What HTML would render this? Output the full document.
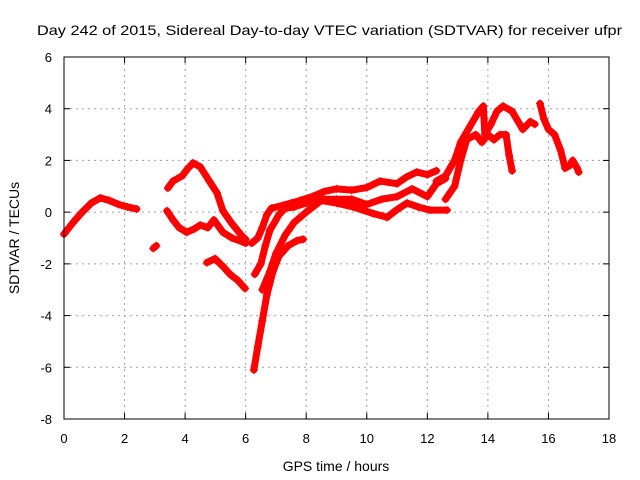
<!DOCTYPE html>
<html><head><meta charset="utf-8"><style>
body{margin:0;background:#fff}
svg{display:block;font-family:"Liberation Sans",sans-serif}
</style></head><body>
<svg id="chart" width="640" height="480" viewBox="0 0 640 480">
<rect width="640" height="480" fill="#fff"/>
<text x="37" y="35" font-size="14" textLength="585" lengthAdjust="spacingAndGlyphs">Day 242 of 2015, Sidereal Day-to-day VTEC variation (SDTVAR) for receiver ufpr</text>
<text transform="translate(19,238) rotate(-90)" text-anchor="middle" font-size="14">SDTVAR / TECUs</text>
<text x="336" y="471" text-anchor="middle" font-size="14">GPS time / hours</text>
<g id="grid"></g><g id="ticks"></g><g id="series"></g>
<rect x="64" y="57" width="545" height="362" fill="none" stroke="#000" stroke-width="1"/>
</svg>
<script>
const xTicks=[0,2,4,6,8,10,12,14,16,18];
const yTicks=[-8,-6,-4,-2,0,2,4,6];
const trackA=[[0,-0.85],[0.3,-0.4],[0.6,0],[0.9,0.35],[1.2,0.55],[1.5,0.45],[1.8,0.3],[2.1,0.2],[2.4,0.12]];
const trackBlob=[[2.95,-1.4],[3.05,-1.3]];
const trackB=[[3.43,0.93],[3.6,1.2],[3.9,1.4],[4.1,1.7],[4.26,1.9],[4.5,1.75],[4.8,1.2],[5.05,0.75],[5.25,0.05],[5.55,-0.45],[5.9,-0.95],[6.0,-1.05]];
const trackC=[[3.4,0.05],[3.6,-0.3],[3.8,-0.6],[4.05,-0.78],[4.3,-0.65],[4.5,-0.5],[4.75,-0.6],[4.95,-0.3],[5.25,-0.78],[5.55,-1.0],[5.9,-1.15],[6.0,-1.2]];
const trackD=[[4.72,-1.95],[4.99,-1.8],[5.25,-2.1],[5.48,-2.4],[5.75,-2.65],[5.98,-2.95]];
const trackE=[[6.27,-6.1],[6.4,-5.2],[6.55,-4.2],[6.7,-3.2],[6.9,-2.3],[7.1,-1.7],[7.4,-1.3],[7.7,-1.1],[7.9,-1.05]];
const trackF=[[6.2,-1.2],[6.4,-1.0],[6.55,-0.6],[6.7,-0.1],[6.85,0.15],[7.2,0.25],[7.5,0.35],[7.8,0.45],[8.2,0.6],[8.6,0.8],[9.0,0.9],[9.5,0.85],[10.0,0.95],[10.44,1.2],[11.0,1.1],[11.3,1.35],[11.65,1.55],[12.0,1.45],[12.3,1.6]];
const trackG=[[6.3,-2.4],[6.5,-2.0],[6.65,-1.3],[6.8,-0.7],[6.95,-0.4],[7.1,-0.1],[7.3,0.15],[7.6,0.2],[8.0,0.35],[8.5,0.5],[9.0,0.5],[9.5,0.5],[10.0,0.3],[10.5,0.5],[11.0,0.6],[11.5,0.9],[12.0,0.6],[12.3,1.1],[12.6,1.3]];
const trackH=[[6.55,-3.0],[6.8,-2.3],[7.0,-1.6],[7.3,-0.9],[7.6,-0.4],[8.0,0.0],[8.5,0.45],[9.0,0.35],[9.55,0.2],[10.2,-0.05],[10.67,-0.2],[11.0,0.1],[11.33,0.35],[11.7,0.2],[12.09,0.08],[12.65,0.08]];
const trackI=[[12.3,1.2],[12.6,1.4],[12.9,2.0],[13.1,2.7],[13.4,3.3],[13.7,3.9],[13.85,4.1],[13.9,3.0],[14.1,3.4],[14.3,3.9],[14.5,4.1],[14.8,3.9],[15.0,3.5],[15.15,3.2],[15.4,3.5],[15.55,3.4]];
const trackJ=[[12.6,0.5],[12.9,1.0],[13.1,2.0],[13.3,2.8],[13.6,3.0],[13.8,2.7],[14.0,3.0],[14.2,2.8],[14.4,3.0],[14.6,3.0],[14.7,2.2],[14.8,1.6]];
const trackK=[[15.72,4.2],[15.85,3.6],[16.0,3.2],[16.2,3.0],[16.4,2.4],[16.55,1.7],[16.7,1.8],[16.8,2.0],[16.95,1.7],[17.0,1.55]];
const tracks=[trackA,trackBlob,trackB,trackC,trackD,trackE,trackF,trackG,trackH,trackI,trackJ,trackK];
const X0=64,X1=609,Y0=419,Y1=57;
function xs(t){return X0+(t-0)/(18-0)*(X1-X0);}
function ys(v){return Y0-(v-(-8))/(6-(-8))*(Y0-Y1);}
const NS="http://www.w3.org/2000/svg";
function mk(tag,attrs,parent){const e=document.createElementNS(NS,tag);for(const k in attrs)e.setAttribute(k,attrs[k]);parent.appendChild(e);return e;}
const grid=document.getElementById('grid'),ticks=document.getElementById('ticks'),series=document.getElementById('series');
xTicks.forEach(t=>{const x=xs(t);
 if(t>0&&t<18){const g=mk('line',{x1:x,x2:x,y1:Y1,y2:Y0,stroke:'#a0a0a0','stroke-dasharray':'2,4'},grid);
 
 }
 mk('line',{x1:x,x2:x,y1:Y0,y2:Y0-6,stroke:'#000'},ticks);
 mk('line',{x1:x,x2:x,y1:Y1,y2:Y1+6,stroke:'#000'},ticks);
 const l=mk('text',{x:x,y:443,'text-anchor':'middle','font-size':'13'},ticks);l.textContent=t;
 
 
});
yTicks.forEach(v=>{const y=ys(v);
 if(v>-8&&v<6){const g=mk('line',{x1:X0,x2:X1,y1:y,y2:y,stroke:'#a0a0a0','stroke-dasharray':'2,4'},grid);
 
 }
 mk('line',{x1:X0,x2:X0+6,y1:y,y2:y,stroke:'#000'},ticks);
 mk('line',{x1:X1,x2:X1-6,y1:y,y2:y,stroke:'#000'},ticks);
 const l=mk('text',{x:52,y:y+5,'text-anchor':'end','font-size':'13'},ticks);l.textContent=v;
 
 
});
tracks.forEach(tr=>{
 const g=mk('g',{},series);
 
 
 mk('polyline',{points:tr.map(p=>xs(p[0])+','+ys(p[1])).join(' '),fill:'none',stroke:'#ff0000','stroke-width':7,'stroke-linejoin':'round','stroke-linecap':'round'},g);
 tr.forEach(p=>{const x=xs(p[0]),y=ys(p[1]);
  const m=mk('path',{d:`M${x-4},${y}H${x+4}M${x},${y-4}V${y+4}`,stroke:'#ff0000','stroke-width':1.2},g);
  
  
 });
});
</script>
</body></html>
